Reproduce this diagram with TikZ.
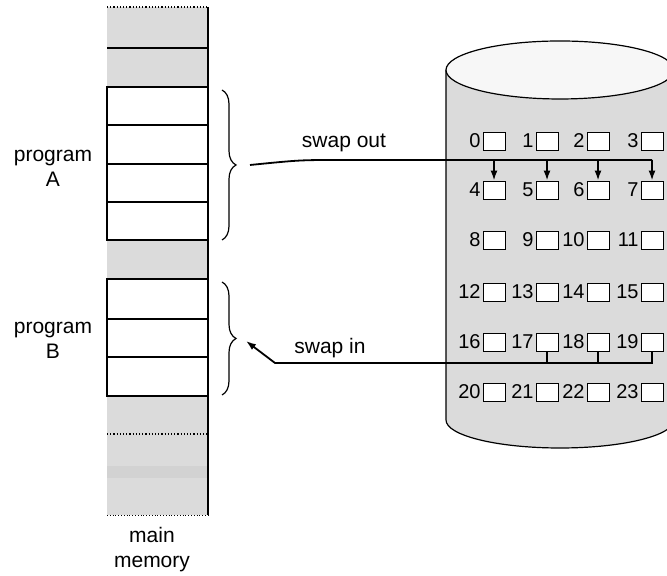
\documentclass[tikz,border=0pt]{standalone}
\usepackage{fontspec}
\setmainfont{Liberation Sans}
\usetikzlibrary{arrows.meta, positioning, decorations.pathreplacing}
\definecolor{stipple}{gray}{0.86}

\begin{document}
\begin{tikzpicture}[x=0.5pt, y=0.5pt, font=\fontsize{10.5}{12.5}\selectfont,
        blk/.style={rectangle, draw, fill=white, minimum width=11pt, minimum height=9pt, inner sep=0pt},
        num/.style={font=\fontsize{10}{10}\selectfont, inner sep=0.3pt},
        swapline/.style={line width=0.9pt},
        swaparrow/.style={line width=0.9pt, -{Latex[length=5pt, width=3.5pt]}},
        mem/.style={draw, line width=0.6pt},
        curly/.style={decorate, decoration={brace, amplitude=7pt}, line width=0.6pt}
    ]
    \useasboundingbox (0,0) rectangle (667,576);
    \clip (0,0) rectangle (667,576);

    % main memory
    \fill[stipple] (107,569) rectangle (208,489);
    \fill[stipple] (107,336) rectangle (208,297);
    \fill[stipple] (107,180) rectangle (208,61);
    \fill[gray!35] (107,110) rectangle (208,98);
    \draw[densely dotted, line width=0.6pt] (107,569) -- (208,569);
    \draw[mem] (107,528) -- (208,528);
    \draw[mem] (208,569) -- (208,61);
    \draw[mem] (107,489) rectangle (208,336);
    \foreach \y in {451,412,374} \draw[mem] (107,\y) -- (208,\y);
    \draw[mem] (107,297) rectangle (208,180);
    \foreach \y in {257,219} \draw[mem] (107,\y) -- (208,\y);
    \draw[densely dotted, line width=0.6pt] (107,142) -- (208,142);
    \draw[densely dotted, line width=0.4pt] (107,61) -- (208,61);

    \node[align=center] (progA) at (53,408) {program\\A};
    \node[align=center] (progB) at (53,236) {program\\B};
    \node[align=center] (mainmem) at (152,26) {main\\memory};

    \draw[curly] (222,486) -- (222,336);
    \draw[curly] (222,294) -- (222,181);
    \coordinate (tipA) at (237,411);
    \coordinate (tipB) at (240,237);

    % backing store
    \fill[stipple] (446,506) -- (446,156) arc[start angle=180, end angle=360, x radius=57pt, y radius=14pt] -- (674,506) -- cycle;
    \draw[line width=0.6pt] (446,506) -- (446,156) arc[start angle=180, end angle=360, x radius=57pt, y radius=14pt];
    \draw[line width=0.6pt, fill=gray!6] (560,506) ellipse[x radius=57pt, y radius=14.5pt];

    \foreach \r/\y in {0/435, 1/386, 2/336, 3/284, 4/234, 5/184} {
        \foreach \c/\x in {0/494, 1/547, 2/598, 3/652} {
            \pgfmathtruncatemacro\n{4*\r+\c}
            \node[blk] (b\n) at (\x,\y) {};
            \node[num, left=0.5pt of b\n] (n\n) {\n};
        }
    }

    % swap out
    \coordinate (outA) at (250,411);
    \coordinate (outH) at (340,416);
    \node (lblOut) at (344,433) {swap out};
    \draw[swapline] (outA) .. controls (300,416) .. (outH) -- (b7.north |- outH);
    \foreach \i in {4,5,6,7} \draw[swaparrow] (b\i.north |- outH) -- (b\i.north);

    % swap in
    \coordinate (inH) at (275,213);
    \coordinate (inB) at (246,235);
    \node (lblIn) at (330,228) {swap in};
    \foreach \i in {17,18} \draw[swapline] (b\i.south) -- (b\i.south |- inH);
    \draw[swaparrow] (b19.south) -- (b19.south |- inH) -- (inH) -- (inB);
\end{tikzpicture}
\end{document}
